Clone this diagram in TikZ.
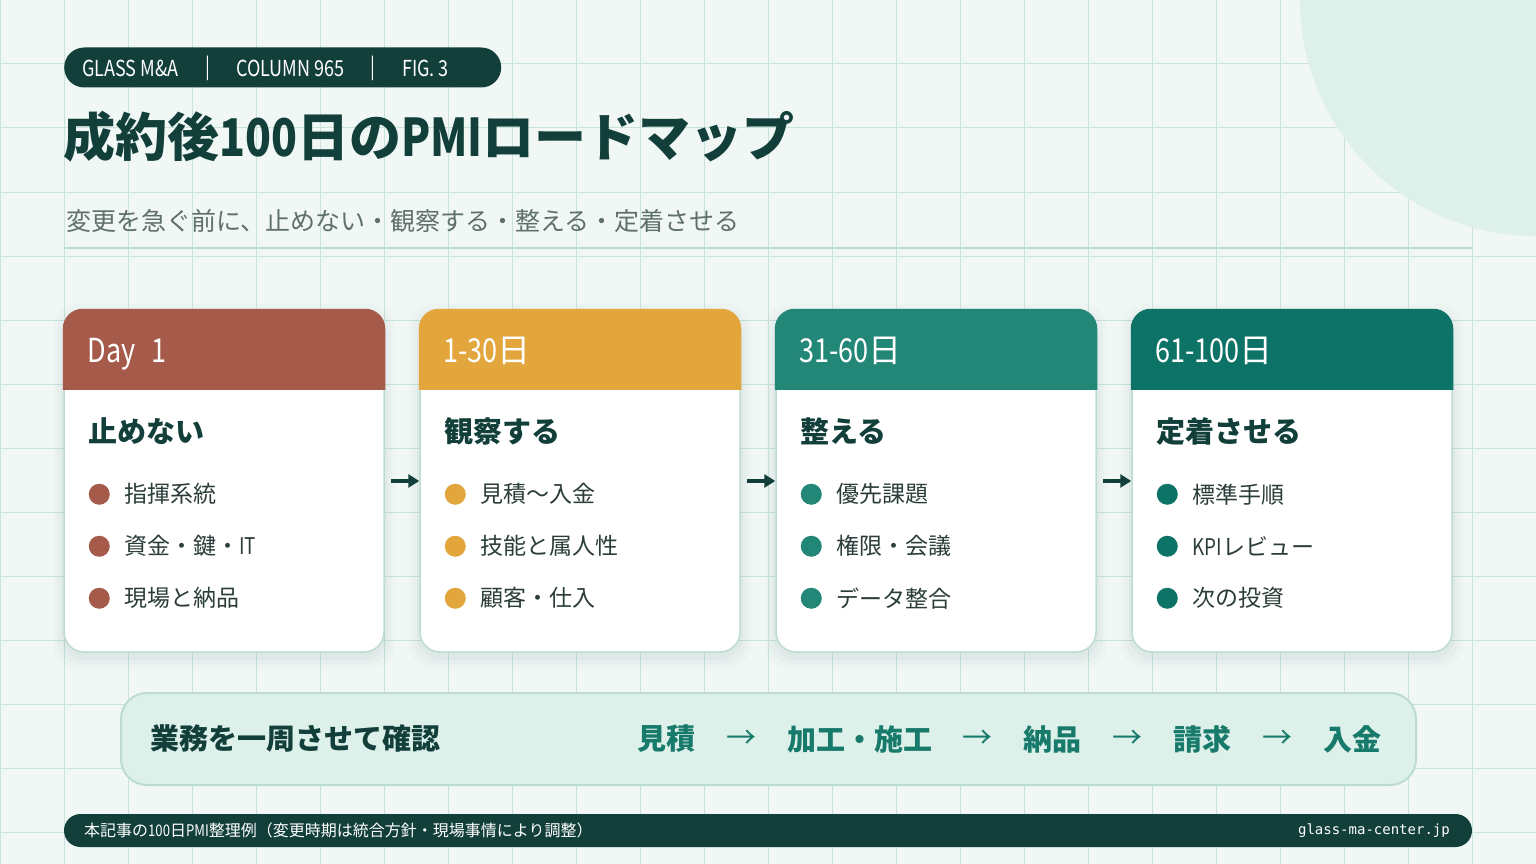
\documentclass[tikz,border=0pt]{standalone}
\usepackage{fontspec}
\setmainfont{Noto Sans CJK JP}
\newfontfamily\latn[FakeStretch=0.82]{Noto Sans CJK JP}
\newfontfamily\urlmono{DejaVu Sans Mono}
\usetikzlibrary{arrows.meta, positioning, calc}
\definecolor{bgPaper}{HTML}{F0F7F5}
\definecolor{gridLine}{HTML}{C9E3DB}
\definecolor{mintFill}{HTML}{DDF0EA}
\definecolor{mintEdge}{HTML}{BCDCD2}
\definecolor{inkDark}{HTML}{123F3A}
\definecolor{subGray}{HTML}{5F6F6C}
\definecolor{textGray}{HTML}{2B3D3A}
\definecolor{dayRed}{HTML}{A65A4A}
\definecolor{dayGold}{HTML}{E2A63C}
\definecolor{dayTeal}{HTML}{238778}
\definecolor{dayDeep}{HTML}{0D7366}
\definecolor{flowTeal}{HTML}{177A6B}

\tikzset{
  card/.style={draw=mintEdge, line width=1.5pt, fill=white, rounded corners=20pt,
    minimum width=320pt, minimum height=342pt, inner sep=0pt},
  tagtxt/.style={anchor=west, text=white, inner sep=0pt, font=\latn\fontsize{22}{22}\selectfont},
  headtxt/.style={anchor=west, text=white, inner sep=0pt, text height=29pt, text depth=4pt,
    font=\fontsize{33}{33}\selectfont},
  cardttl/.style={anchor=west, text=inkDark, inner sep=0pt, font=\fontsize{29}{29}\selectfont\bfseries},
  itemtxt/.style={anchor=west, text=textGray, inner sep=0pt, font=\fontsize{23}{23}\selectfont},
  linkarrow/.style={-{Triangle[length=11pt, width=13pt]}, line width=4pt, inkDark, shorten <=6pt},
  flowword/.style={text=flowTeal, inner sep=0pt, font=\fontsize{29}{29}\selectfont\bfseries},
  flowstep/.style={text=flowTeal, inner sep=0pt, font=\fontsize{30}{30}\selectfont},
}

\begin{document}
\begin{tikzpicture}[x=1pt, y=-1pt]
    \useasboundingbox (0,0) rectangle (1536,864);
    \clip (0,0) rectangle (1536,864);

    % paper and grid
    \fill[bgPaper] (0,0) rectangle (1536,864);
    \foreach \g in {0,64,...,1536} \draw[gridLine, line width=1pt] (\g,0) -- (\g,864);
    \foreach \g in {0,64,...,896} \draw[gridLine, line width=1pt] (0,\g) -- (1536,\g);
    \fill[mintFill] (1536,0) circle[radius=236];

    % heading
    \node[fill=inkDark, rounded corners=20pt, minimum width=437pt, minimum height=40pt,
      inner sep=0pt, anchor=west] (tag) at (64,67.5) {};
    \node[tagtxt] (tagA) at (82,68) {GLASS M\&A};
    \node[tagtxt, anchor=center] (sepA) at (208,68) {|};
    \node[tagtxt] (tagB) at (236,68) {COLUMN 965};
    \node[tagtxt, anchor=center] (sepB) at (373,68) {|};
    \node[tagtxt] (tagC) at (402,68) {FIG. 3};

    \node[anchor=west, text=inkDark, inner sep=0pt, font=\fontsize{52}{52}\selectfont\bfseries]
      (title) at (63,137) {成約後{\latn 100}日の{\latn PMI}ロードマップ};
    \node[anchor=west, text=subGray, inner sep=0pt, font=\fontsize{25}{25}\selectfont]
      (subtitle) at (66,221) {変更を急ぐ前に、止めない・観察する・整える・定着させる};
    \draw[mintEdge, line width=2pt] (64,248) -- (1472,248);

    % phase cards
    \foreach \i/\x/\col/\head/\ttl/\ia/\ib/\ic in {
      1/224/dayRed/{{\latn Day\enspace 1}}/止めない/指揮系統/{資金・鍵・{\latn IT}}/現場と納品,
      2/580/dayGold/{{\latn 1-30}日}/観察する/見積〜入金/技能と属人性/顧客・仕入,
      3/936/dayTeal/{{\latn 31-60}日}/整える/優先課題/権限・会議/データ整合,
      4/1292/dayDeep/{{\latn 61-100}日}/定着させる/標準手順/{{\latn KPI}レビュー}/次の投資} {
      \foreach \s/\o in {11/0.016, 7/0.022, 3/0.03}
        \fill[inkDark, opacity=\o, rounded corners=24pt] (\x-160-\s,310-\s+5) rectangle (\x+160+\s,652+\s+5);
      \node[card] (c\i) at (\x,481) {};
      \begin{scope}
        \clip[rounded corners=20pt] ($(c\i.north west)+(-0.5,-0.5)$) rectangle ($(c\i.south east)+(0.5,0.5)$);
        \fill[\col] ($(c\i.north west)+(-1,-1)$) rectangle ($(c\i.north east)+(1,81)$);
      \end{scope}
      \node[headtxt] (h\i) at ($(c\i.north west)+(24,41)$) {\head};
      \node[cardttl] (t\i) at ($(c\i.north west)+(25,122)$) {\ttl};
      \foreach \it [count=\k] in {\ia,\ib,\ic} {
        \fill[\col] ($(c\i.north west)+(36,133+52*\k)$) circle[radius=10.5];
        \node[itemtxt] (b\i-\k) at ($(c\i.north west)+(61,133+52*\k)$) {\it};
      }
    }
    \foreach \a/\b in {1/2, 2/3, 3/4}
      \draw[linkarrow] (c\a.east) -- (c\b.west);

    % business loop
    \node[fill=mintFill, draw=mintEdge, line width=2pt, rounded corners=26pt,
      minimum width=1295pt, minimum height=92pt, inner sep=0pt] (loop) at (768.5,739) {};
    \node[anchor=west, text=inkDark, inner sep=0pt, font=\fontsize{29}{29}\selectfont\bfseries]
      (loopttl) at (150,739) {業務を一周させて確認};
    \node[flowword, anchor=west] (f1) at (637,739) {見積};
    \node[flowstep, right=30.5pt of f1] (s1) {→};
    \node[flowword, right=30.5pt of s1] (f2) {加工・施工};
    \node[flowstep, right=30.5pt of f2] (s2) {→};
    \node[flowword, right=30.5pt of s2] (f3) {納品};
    \node[flowstep, right=30.5pt of f3] (s3) {→};
    \node[flowword, right=30.5pt of s3] (f4) {請求};
    \node[flowstep, right=30.5pt of f4] (s4) {→};
    \node[flowword, right=30.5pt of s4] (f5) {入金};

    % footer
    \node[fill=inkDark, rounded corners=16.5pt, minimum width=1408pt, minimum height=33pt,
      inner sep=0pt] (foot) at (768,830.5) {};
    \node[anchor=west, text=white, inner sep=0pt, font=\fontsize{16}{16}\selectfont]
      (footnote) at (84,830.5) {本記事の{\latn 100}日{\latn PMI}整理例（変更時期は統合方針・現場事情により調整）};
    \node[anchor=east, text=white, inner sep=0pt, font=\urlmono\fontsize{14}{14}\selectfont]
      (footurl) at (1450,830.5) {glass-ma-center.jp};
\end{tikzpicture}
\end{document}
